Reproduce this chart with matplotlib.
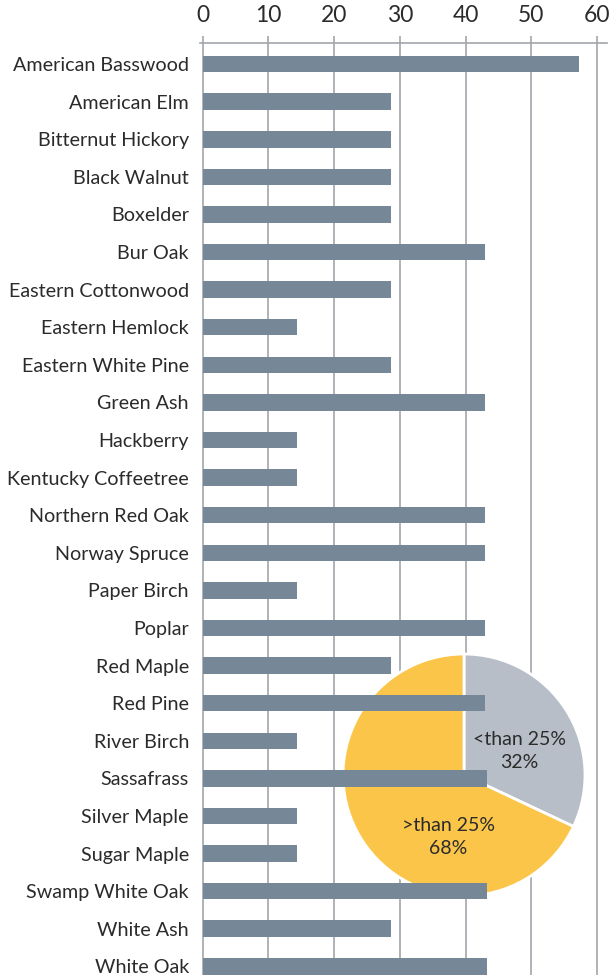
import matplotlib.pyplot as plt

# bar data (percent)
species = ['American Basswood', 'American Elm', 'Bitternut Hickory', 'Black Walnut',
           'Boxelder', 'Bur Oak', 'Eastern Cottonwood', 'Eastern Hemlock',
           'Eastern White Pine', 'Green Ash', 'Hackberry', 'Kentucky Coffeetree',
           'Northern Red Oak', 'Norway Spruce', 'Paper Birch', 'Poplar', 'Red Maple',
           'Red Pine', 'River Birch', 'Sassafrass', 'Silver Maple', 'Sugar Maple',
           'Swamp White Oak', 'White Ash', 'White Oak']
percent = [57.2, 28.6, 28.6, 28.6, 28.6, 42.9, 28.6, 14.3, 28.6, 42.9, 14.3, 14.3,
           42.9, 42.9, 14.3, 42.9, 28.6, 42.9, 14.3, 43.3, 14.3, 14.3, 43.3, 28.6, 43.2]
xticks = [0, 10, 20, 30, 40, 50, 60]

# pie data
pie_labels = ['<than 25%', '>than 25%']
pie_values = [32, 68]

plt.rcParams['font.family'] = ['Lato', 'DejaVu Sans']
bar_color = '#768797'
grid_color = '#a2a6ab'
text_color = '#2b2b2b'

W, H = 612, 975
fig = plt.figure(figsize=(W / 100, H / 100), dpi=100)

left = 200 / W
width = (607 - 200) / W
bottom = 0
height = (H - 43) / H
xlim = (-0.4, 61.5)
ylim = (len(species) - 1 + 0.23, -0.56)

# background axes: gridlines only
ax_bg = fig.add_axes([left, bottom, width, height], zorder=0)
ax_bg.set_xlim(xlim)
ax_bg.set_ylim(ylim)
for t in xticks:
    ax_bg.axvline(t, color=grid_color, lw=1.2)
ax_bg.set_xticks([])
ax_bg.set_yticks([])
for s in ax_bg.spines.values():
    s.set_visible(False)

# pie in the middle layer
cx, cy, r = 464, 775, 121
ax_pie = fig.add_axes([(cx - r) / W, (H - cy - r) / H, 2 * r / W, 2 * r / H], zorder=1)
ax_pie.pie(pie_values, colors=['#b8bec8', '#fbc54a'], startangle=90, counterclock=False,
           wedgeprops=dict(edgecolor='white', linewidth=2))
ax_pie.set_xlim(-1.0, 1.0)
ax_pie.set_ylim(-1.0, 1.0)
ax_pie.text(0.46, 0.2, pie_labels[0] + '\n' + str(pie_values[0]) + '%', ha='center',
            va='center', fontsize=14, color=text_color, linespacing=1.4)
ax_pie.text(-0.13, -0.51, pie_labels[1] + '\n' + str(pie_values[1]) + '%', ha='center',
            va='center', fontsize=14, color=text_color, linespacing=1.4)

# bars on top
ax = fig.add_axes([left, bottom, width, height], zorder=2)
ax.patch.set_visible(False)
ax.barh(range(len(species)), percent, height=0.44, color=bar_color, zorder=3)
ax.set_xlim(xlim)
ax.set_ylim(ylim)
ax.set_yticks(range(len(species)))
ax.set_yticklabels(species, fontsize=14.2, color=text_color)
ax.tick_params(axis='y', length=0, pad=8)
ax.xaxis.tick_top()
ax.set_xticks(xticks)
ax.set_xticklabels([str(t) for t in xticks], fontsize=16.5, color=text_color)
ax.tick_params(axis='x', direction='out', length=5, width=1.2, color=grid_color, pad=7)
for side in ['left', 'right', 'bottom']:
    ax.spines[side].set_visible(False)
ax.spines['top'].set_color(grid_color)
ax.spines['top'].set_linewidth(1.2)

fig.savefig('out.png', dpi=100)
